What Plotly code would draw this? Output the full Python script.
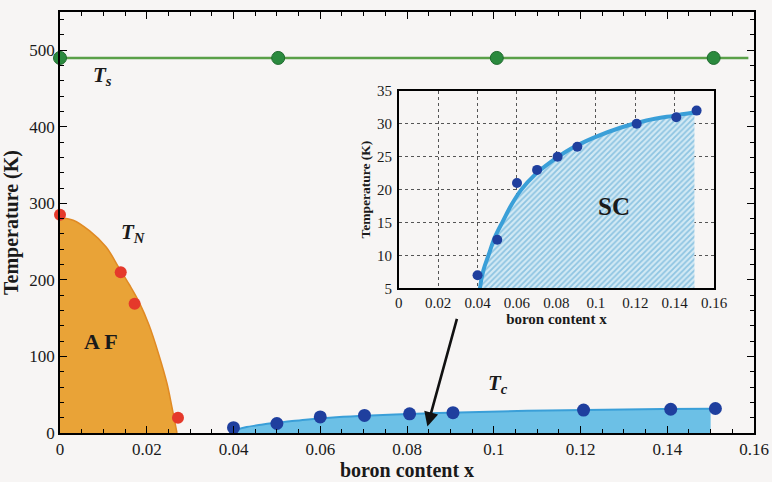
import plotly.graph_objects as go

# ---------------- data ----------------
ts_x = [0.0, 0.0503, 0.1007, 0.1507]
ts_t = [490, 490, 490, 490]
ts_line_x = [0.0, 0.1587]
ts_line_t = [490, 490]

tn_x = [0.0, 0.0140, 0.0172, 0.0272]
tn_t = [285, 210, 169, 20]
af_x = [0.0, 0.00304, 0.00684, 0.01064, 0.01368, 0.01596, 0.01824, 0.02052, 0.0228, 0.0247, 0.0258, 0.02697]
af_t = [281, 278, 264, 243, 215, 194, 171, 141, 102, 64, 34, 0]

tc_x = [0.040, 0.050, 0.060, 0.0702, 0.0806, 0.0906, 0.1207, 0.1408, 0.1511]
tc_t = [7.0, 12.4, 21.0, 23.0, 25.0, 26.5, 30.0, 31.0, 32.0]
fit_x = [0.0405, 0.0412, 0.0430, 0.0455, 0.0488, 0.053, 0.0572, 0.0622, 0.0689, 0.0772, 0.0873, 0.099, 0.1124, 0.1257, 0.139, 0.150]
fit_t = [0, 5, 7.8, 10, 12.8, 15.3, 17.7, 20, 22.2, 24.2, 26.2, 27.9, 29.4, 30.5, 31.2, 31.7]

main_xticks = [0, 0.02, 0.04, 0.06, 0.08, 0.1, 0.12, 0.14, 0.16]
main_xlabels = ["0", "0.02", "0.04", "0.06", "0.08", "0.1", "0.12", "0.14", "0.16"]
main_yticks = [0, 100, 200, 300, 400, 500]
inset_yticks = [5, 10, 15, 20, 25, 30, 35]

# ---------------- style ----------------
BG = "#f7f5f4"
FONT = "Liberation Serif"
ORANGE_FILL = "rgba(233,163,55,1)"
ORANGE_LINE = "#e08a24"
RED = "#e5392b"
GREEN_LINE = "#5aa048"
GREEN_DOT = "#2b8a3e"
BLUE_DOT = "#1f3f9e"
BLUE_LINE = "#3a9fd8"
BLUE_FILL = "#6cc0e6"

fig = go.Figure()

# AF region
fig.add_trace(go.Scatter(x=af_x, y=af_t, mode="lines", line=dict(color=ORANGE_LINE, width=1.5, shape="spline"),
                         fill="tozeroy", fillcolor=ORANGE_FILL, hoverinfo="skip"))
# Ts
fig.add_trace(go.Scatter(x=ts_line_x, y=ts_line_t, mode="lines", line=dict(color=GREEN_LINE, width=2.5)))
fig.add_trace(go.Scatter(x=ts_x, y=ts_t, mode="markers", cliponaxis=False,
                         marker=dict(color=GREEN_DOT, size=13, line=dict(color="#1f6a2e", width=1))))
# TN dots
fig.add_trace(go.Scatter(x=tn_x, y=tn_t, mode="markers", marker=dict(color=RED, size=12), cliponaxis=False))
# Tc main
fig.add_trace(go.Scatter(x=fit_x, y=fit_t, mode="lines", line=dict(color=BLUE_LINE, width=2, shape="spline"),
                         fill="tozeroy", fillcolor=BLUE_FILL))
fig.add_trace(go.Scatter(x=tc_x, y=tc_t, mode="markers", marker=dict(color=BLUE_DOT, size=13), cliponaxis=False))

# Inset
fig.add_trace(go.Scatter(x=fit_x, y=fit_t, mode="lines", xaxis="x2", yaxis="y2",
                         line=dict(color=BLUE_LINE, width=4, shape="spline"),
                         fill="tozeroy", fillcolor="#cfe7f3",
                         fillpattern=dict(shape="/", fgcolor="#4a9fcf", bgcolor="#d2e9f4", size=4, solidity=0.45)))
fig.add_trace(go.Scatter(x=tc_x, y=tc_t, mode="markers", xaxis="x2", yaxis="y2",
                         marker=dict(color=BLUE_DOT, size=10), cliponaxis=False))

axis_common = dict(showline=True, linecolor="black", linewidth=1.5, mirror="allticks",
                   ticks="inside", tickcolor="black", showgrid=False, zeroline=False)

fig.update_layout(
    width=772, height=482,
    margin=dict(l=60, r=10, t=4, b=49),
    paper_bgcolor=BG, plot_bgcolor=BG,
    showlegend=False,
    font=dict(family=FONT, color="#1a1a1a"),
    xaxis=dict(range=[0, 0.16], tickvals=main_xticks, ticktext=main_xlabels, ticklen=7, tickwidth=1.3,
               minor=dict(dtick=0.005, ticklen=4, ticks="inside", tickcolor="black", tickwidth=1.2),
               tickfont=dict(size=17, family=FONT),
               title=dict(text="<b>boron content x</b>", font=dict(size=20, family=FONT), standoff=4),
               **axis_common),
    yaxis=dict(range=[0, 550], tickvals=main_yticks, ticklen=7, tickwidth=1.3,
               minor=dict(dtick=20, ticklen=4, ticks="inside", tickcolor="black", tickwidth=1.2),
               tickfont=dict(size=17, family=FONT),
               title=dict(text="<b>Temperature (K)</b>", font=dict(size=20, family=FONT), standoff=6),
               **axis_common),
    xaxis2=dict(domain=[0.488, 0.9426], anchor="y2", range=[0, 0.16], tickvals=main_xticks, ticktext=main_xlabels,
                showline=True, linecolor="black", linewidth=1.5, mirror=True, ticks="",
                showgrid=True, gridcolor="#555555", griddash="dot", gridwidth=1, zeroline=False,
                tickfont=dict(size=15, family=FONT), ticklabelstandoff=0,
                title=dict(text="<b>boron content x</b>", font=dict(size=15, family=FONT), standoff=3)),
    yaxis2=dict(domain=[0.3434, 0.8127], anchor="x2", range=[5, 35], tickvals=inset_yticks,
                showline=True, linecolor="black", linewidth=1.5, mirror=True, ticks="",
                showgrid=True, gridcolor="#555555", griddash="dot", gridwidth=1, zeroline=False,
                tickfont=dict(size=15, family=FONT), ticklabelstandoff=2,
                title=dict(text="<b>Temperature (K)</b>", font=dict(size=13.5, family=FONT), standoff=3)),
)

ann_font = dict(family=FONT, size=21, color="#1a1a1a")
fig.add_annotation(x=0.0098, y=467, xref="x", yref="y", showarrow=False,
                   text="<b><i>T</i></b><sub><b><i>s</i></b></sub>", font=ann_font)
fig.add_annotation(x=0.0170, y=261, xref="x", yref="y", showarrow=False,
                   text="<b><i>T</i></b><sub><b><i>N</i></b></sub>", font=ann_font)
fig.add_annotation(x=0.1010, y=64, xref="x", yref="y", showarrow=False,
                   text="<b><i>T</i></b><sub><b><i>c</i></b></sub>", font=ann_font)
fig.add_annotation(x=0.0095, y=119, xref="x", yref="y", showarrow=False,
                   text="<b>A F</b>", font=dict(family=FONT, size=22, color="#1a1a1a"))
fig.add_annotation(x=0.109, y=17.5, xref="x2", yref="y2", showarrow=False,
                   text="<b>SC</b>", font=dict(family=FONT, size=25, color="#1a1a1a"))
fig.add_annotation(x=0.0847, y=8.5, xref="x", yref="y", ax=0.0916, ay=151, axref="x", ayref="y",
                   text="", showarrow=True, arrowhead=2, arrowsize=1.1, arrowwidth=2.6, arrowcolor="#111")

fig.write_html("out.html", config={"displayModeBar": False},
               post_script="document.body.style.margin='0';document.body.style.overflow='hidden';")
